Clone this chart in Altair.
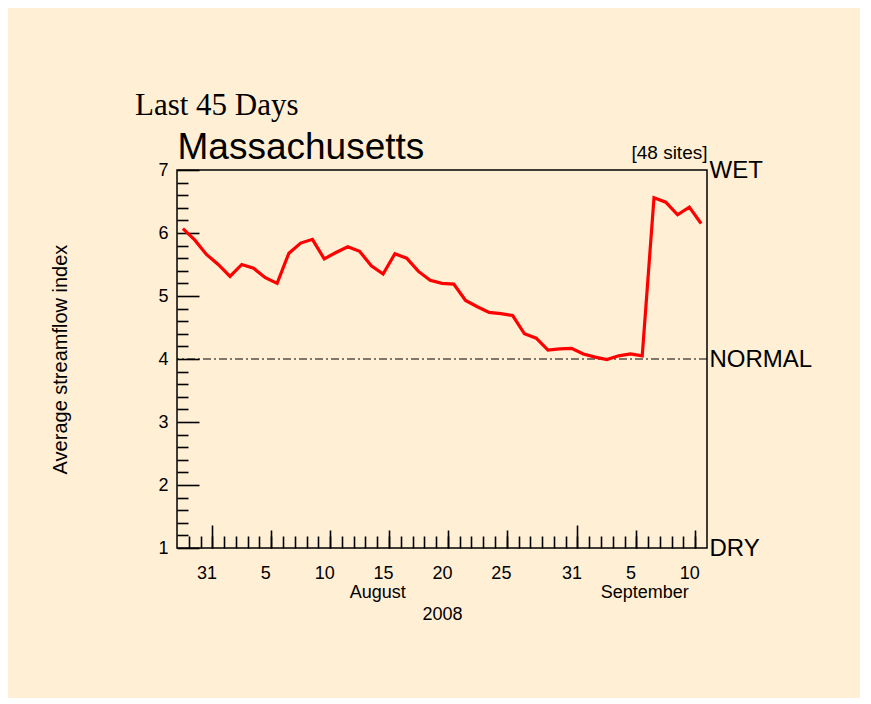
import altair as alt
import pandas as pd

# ---- data ----
start_day = "2008-07-29 12:00"
n_days = 45
streamflow_index = [
    6.07, 5.89, 5.66, 5.50, 5.31, 5.50, 5.44, 5.29, 5.20, 5.68,
    5.84, 5.90, 5.59, 5.69, 5.78, 5.71, 5.48, 5.35, 5.67, 5.60,
    5.39, 5.25, 5.20, 5.19, 4.93, 4.83, 4.74, 4.72, 4.69, 4.40,
    4.33, 4.14, 4.16, 4.17, 4.08, 4.03, 3.99, 4.05, 4.08, 4.05,
    6.56, 6.49, 6.29, 6.41, 6.15,
]
normal_level = [4]
y_labels = {7: "WET", 4: "NORMAL", 1: "DRY"}
day_label_dates = [(7, 31), (8, 5), (8, 10), (8, 15), (8, 20), (8, 25), (8, 31), (9, 5), (9, 10)]
month_label_dates = [(8, 15, 0), (9, 6, 16)]
year_label_date = (8, 20, 12)
medium_tick_dates = [(8, 6), (8, 11), (8, 16), (8, 21), (8, 26), (9, 6), (9, 11)]
major_tick_dates = [(8, 1), (9, 1)]

df = pd.DataFrame({
    "date": pd.date_range(start_day, periods=n_days, freq="D"),
    "index": streamflow_index,
})
normal_df = pd.DataFrame({"level": normal_level})

def dt(m, d, h=0):
    return alt.DateTime(year=2008, month=m, date=d, hours=h)

minor_tick_dates = [dt(ts.month, ts.day) for ts in pd.date_range("2008-07-30", "2008-09-11", freq="D")]

FONT = "Liberation Sans"
W, H = 530, 378
xscale = alt.Scale(domain=[dt(7, 29), dt(9, 12)], nice=False)
yscale = alt.Scale(domain=[1, 7], nice=False, zero=False)


def xaxis(**kw):
    base = dict(orient="bottom", grid=False, domain=False, labels=False, ticks=False,
                tickSize=0, title=None, labelFlush=False, labelOverlap=False,
                tickColor="black", tickWidth=1.6, labelColor="black",
                labelFont=FONT, labelFontSize=18)
    base.update(kw)
    return alt.Axis(**base)


def yaxis(**kw):
    base = dict(orient="left", grid=False, domain=False, labels=False, ticks=False,
                tickSize=0, title=None, labelFlush=False, labelOverlap=False,
                tickColor="black", tickWidth=1.6, labelColor="black",
                labelFont=FONT, labelFontSize=18)
    base.update(kw)
    return alt.Axis(**base)


def layer(xax, yax, visible=False):
    mark = alt.Chart(df).mark_line(color="#ff0000", strokeWidth=3.2,
                                   opacity=1 if visible else 0)
    return mark.encode(
        x=alt.X("date:T", scale=xscale, axis=xax),
        y=alt.Y("index:Q", scale=yscale, axis=yax),
    )


y_minor = [round(1 + 0.2 * k, 1) for k in range(31) if k % 5 != 0]
y_major = [1, 2, 3, 4, 5, 6, 7]

# inward-pointing ticks: axes drawn on the opposite side, shifted onto the frame
l_line = layer(
    xaxis(orient="top", offset=-H, values=minor_tick_dates, ticks=True, tickSize=12),
    yaxis(orient="right", offset=-W, values=y_minor, ticks=True, tickSize=11),
    visible=True,
)
l_medium = layer(
    xaxis(orient="top", offset=-H, values=[dt(m, d) for m, d in medium_tick_dates],
          ticks=True, tickSize=18),
    yaxis(orient="right", offset=-W, values=y_major, ticks=True, tickSize=22),
)
l_major = layer(
    xaxis(orient="top", offset=-H, values=[dt(m, d) for m, d in major_tick_dates],
          ticks=True, tickSize=23),
    yaxis(values=y_major, labels=True, labelPadding=9,
          title="Average streamflow index", titleX=-117, titleY=189,
          titleAngle=270, titleAlign="center", titleBaseline="middle",
          titleFont=FONT, titleFontSize=20, titleFontWeight="normal",
          titleColor="black"),
)
l_days = layer(
    xaxis(values=[dt(m, d, 12) for m, d in day_label_dates], labels=True,
          format="%-d", labelPadding=16, labelBaseline="top"),
    yaxis(orient="right", values=list(y_labels.keys()), labels=True,
          labelExpr="datum.value == 7 ? 'WET' : datum.value == 4 ? 'NORMAL' : 'DRY'",
          labelFontSize=24, labelPadding=2, labelBaseline="middle",
          title="[48 sites]", titleAngle=0, titleX=0, titleY=-8,
          titleAlign="right", titleBaseline="bottom", titleFont=FONT,
          titleFontSize=19, titleFontWeight="normal", titleColor="black"),
)
l_month = layer(
    xaxis(values=[dt(m, d, h) for m, d, h in month_label_dates], labels=True,
          format="%B", labelPadding=35, labelBaseline="top"),
    None,
)
l_year = layer(
    xaxis(values=[dt(*year_label_date)], labels=True, format="%Y",
          labelPadding=57, labelBaseline="top"),
    None,
)
l_top = layer(
    xaxis(orient="top", title="Massachusetts", titleX=0, titleY=-12,
          titleAlign="left", titleBaseline="alphabetic", titleAngle=0,
          titleFont=FONT, titleFontSize=37, titleFontWeight="normal",
          titleColor="black"),
    None,
)

normal_rule = alt.Chart(normal_df).mark_rule(
    color="black", strokeWidth=1.2, strokeDash=[8, 3, 2, 3]
).encode(y=alt.Y("level:Q", scale=yscale, axis=None))

chart = (
    alt.layer(normal_rule, l_line, l_medium, l_major, l_days, l_month, l_year, l_top)
    .resolve_axis(x="independent", y="independent")
    .properties(
        width=W,
        height=H,
        autosize=alt.AutoSizeParams(type="none"),
        padding={"left": 169, "top": 162, "right": 153, "bottom": 150},
        title=alt.Title("Last 45 Days", anchor="start", frame="group", dx=-42,
                        font="Liberation Serif", fontSize=31, fontWeight="normal",
                        color="black", offset=6),
    )
    .configure(background="#FFEFD5")
    .configure_view(stroke="black", strokeWidth=1.5)
)

chart.save("out.html", embed_options={"renderer": "svg", "actions": False})
